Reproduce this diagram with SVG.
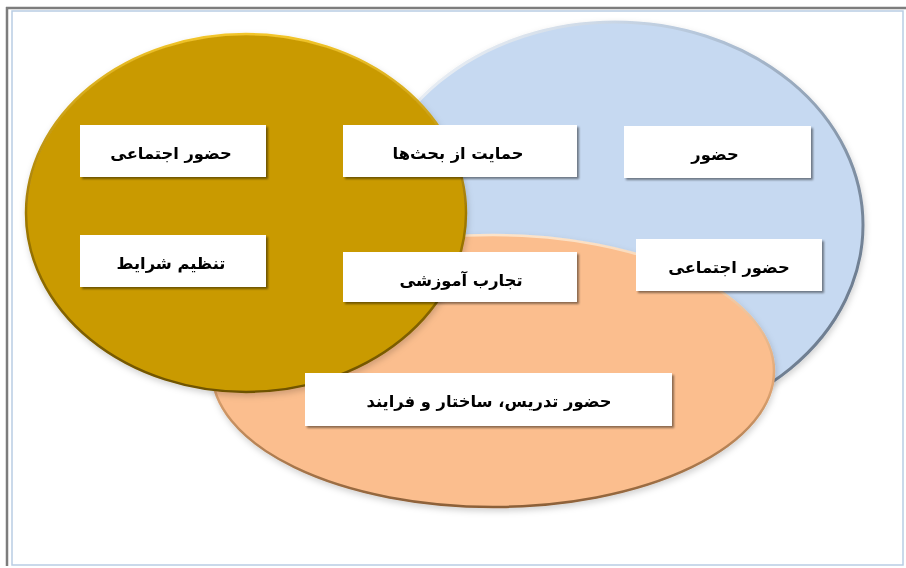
<svg xmlns="http://www.w3.org/2000/svg" width="906" height="568" viewBox="0 0 906 568">
<style>
.box{fill:#ffffff;}
.lbl{font-family:"DejaVu Sans",sans-serif;font-weight:bold;font-size:16.3px;fill:#000;text-anchor:middle;dominant-baseline:central;direction:rtl;}
</style>
<defs>
<linearGradient id="gGold" x1="0" y1="0" x2="0" y2="1">
<stop offset="0" stop-color="#f2c52a"/><stop offset="0.5" stop-color="#a07a05"/><stop offset="1" stop-color="#6e5200"/>
</linearGradient>
<linearGradient id="gBlue" x1="0" y1="0" x2="1" y2="0.6">
<stop offset="0" stop-color="#ffffff"/><stop offset="0.5" stop-color="#b6c7db"/><stop offset="1" stop-color="#6f7f92"/>
</linearGradient>
<linearGradient id="gOrange" x1="0" y1="0" x2="0" y2="1">
<stop offset="0" stop-color="#fde3c8"/><stop offset="0.55" stop-color="#e0a572"/><stop offset="1" stop-color="#8c6038"/>
</linearGradient>
<linearGradient id="bs" x1="0" y1="0" x2="1" y2="1">
<stop offset="0" stop-color="#ffffff"/><stop offset="1" stop-color="#f4f4f4"/>
</linearGradient>
<filter id="ds" x="-10%" y="-10%" width="120%" height="125%">
<feDropShadow dx="1" dy="3" stdDeviation="3" flood-color="#000" flood-opacity="0.18"/>
</filter>
<filter id="bsh" x="-5%" y="-10%" width="115%" height="130%">
<feDropShadow dx="2" dy="2" stdDeviation="1" flood-color="#000" flood-opacity="0.45"/>
</filter>
</defs>
<rect x="0" y="0" width="906" height="568" fill="#ffffff"/>
<g id="frame">
<rect x="12" y="11" width="891" height="554" fill="none" stroke="#b9cde4" stroke-width="1.5"/>
<line x1="6" y1="8" x2="906" y2="8" stroke="#7d7d7d" stroke-width="2.5"/>
<line x1="7" y1="7" x2="7" y2="566" stroke="#7d7d7d" stroke-width="2.5"/>
</g>
<g id="circle-blue">
<ellipse cx="615" cy="225" rx="248" ry="203" fill="#c6d9f1" stroke="url(#gBlue)" stroke-width="3" filter="url(#ds)"/>
</g>
<g id="circle-orange">
<ellipse cx="493" cy="371" rx="281" ry="136" fill="#fbbe8e" stroke="url(#gOrange)" stroke-width="2.5" filter="url(#ds)"/>
</g>
<g id="circle-gold">
<ellipse cx="246" cy="213" rx="220" ry="179" fill="#c99a06" stroke="url(#gGold)" stroke-width="2.5" filter="url(#ds)"/>
</g>
<g id="connectors"/>
<g id="n1" filter="url(#bsh)">
<rect class="box" x="80" y="125" width="186" height="52" fill="url(#bs)"/>
<text class="lbl" x="171" y="153">حضور اجتماعی</text>
</g>
<g id="n2" filter="url(#bsh)">
<rect class="box" x="80" y="235" width="186" height="52" fill="url(#bs)"/>
<text class="lbl" x="171" y="263">تنظیم شرایط</text>
</g>
<g id="n3" filter="url(#bsh)">
<rect class="box" x="343" y="125" width="234" height="52" fill="url(#bs)"/>
<text class="lbl" x="458" y="153">حمایت از بحث‌ها</text>
</g>
<g id="n4" filter="url(#bsh)">
<rect class="box" x="624" y="126" width="187" height="52" fill="url(#bs)"/>
<text class="lbl" x="715" y="154">حضور</text>
</g>
<g id="n5" filter="url(#bsh)">
<rect class="box" x="636" y="239" width="186" height="52" fill="url(#bs)"/>
<text class="lbl" x="729" y="267">حضور اجتماعی</text>
</g>
<g id="n6" filter="url(#bsh)">
<rect class="box" x="343" y="252" width="234" height="50" fill="url(#bs)"/>
<text class="lbl" x="461" y="280">تجارب آموزشی</text>
</g>
<g id="n7" filter="url(#bsh)">
<rect class="box" x="305" y="373" width="367" height="53" fill="url(#bs)"/>
<text class="lbl" x="489" y="401">حضور تدریس، ساختار و فرایند</text>
</g>
</svg>
